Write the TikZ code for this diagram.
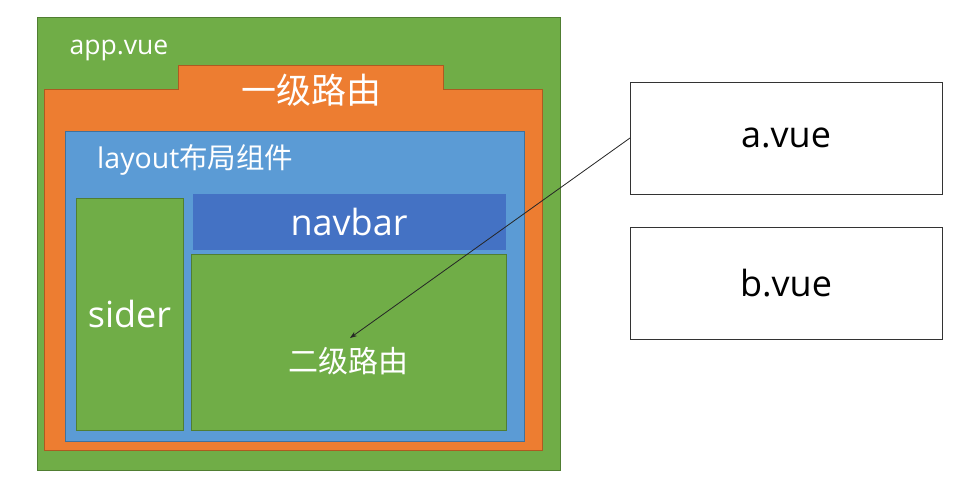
\documentclass[tikz,border=0pt]{standalone}
\usepackage{fontspec}
\setmainfont{Open Sans}
\newfontfamily\cjk{Noto Sans CJK SC}
\usepackage{xcolor}
\usetikzlibrary{positioning,arrows.meta}

\definecolor{appgreen}{HTML}{70AD47}
\definecolor{appgreenline}{HTML}{507E32}
\definecolor{routeorange}{HTML}{ED7D31}
\definecolor{routeorangeline}{HTML}{AE5A21}
\definecolor{layoutblue}{HTML}{5B9BD5}
\definecolor{layoutblueline}{HTML}{41719C}
\definecolor{navblue}{HTML}{4472C4}

\begin{document}
\begin{tikzpicture}[
    x=1pt, y=-1pt,
    >={Stealth[length=7pt, width=5pt]},
    box/.style={rectangle, inner sep=0pt, outer sep=0pt, line width=1pt, anchor=north west},
    greenbox/.style={box, fill=appgreen, draw=appgreenline},
    bluebox/.style={box, fill=layoutblue, draw=layoutblueline},
    navbox/.style={box, fill=navblue, draw=navblue},
    pagebox/.style={box, fill=white, draw=black!80, minimum width=312pt, minimum height=112pt},
    routepath/.style={fill=routeorange, draw=routeorangeline, line width=1pt},
    whitetext/.style={text=white, inner sep=0pt},
    bigfont/.style={font=\fontsize{36}{40}\selectfont},
    link/.style={->, line width=0.8pt, draw=black!85}
]
\useasboundingbox (0,0) rectangle (976,482);

% app.vue
\node[greenbox, minimum width=523pt, minimum height=453pt] (app) at (37,17) {};
\node[whitetext, font=\fontsize{26.5}{30}\selectfont] (applabel) at (119,50) {app.vue};

% first level route with tab
\draw[routepath] (44,89) -- (178,89) -- (178,65) -- (443,65) -- (443,89)
    -- (542,89) -- (542,450) -- (44,450) -- cycle;
\node[whitetext, font=\cjk\fontsize{35}{40}\selectfont] (routeone) at (311,90) {一级路由};

% layout
\node[bluebox, minimum width=459pt, minimum height=310pt] (layout) at (65,131) {};
\node[whitetext, anchor=west, font=\fontsize{28.5}{32}\selectfont] (layoutlabel) at (97,160) {layout{\cjk 布局组件}};

% sider, navbar, second level route
\node[greenbox, minimum width=107pt, minimum height=232pt] (sider) at (76,198) {};
\node[whitetext, bigfont] at (sider.center) {sider};
\node[navbox, minimum width=312pt, minimum height=55pt] (navbar) at (193,194) {};
\node[whitetext, bigfont] at (navbar.center) {navbar};
\node[greenbox, minimum width=315pt, minimum height=176pt] (routetwo) at (191,254) {};
\node[whitetext, font=\cjk\fontsize{30}{34}\selectfont] (routetwolabel) at (348,361) {二级路由};

% pages
\node[pagebox] (avue) at (630,82) {};
\node[bigfont] at (avue.center) {a.vue};
\node[pagebox] (bvue) at (630,227) {};
\node[bigfont] at (bvue.center) {b.vue};

% arrow
\coordinate (target) at (350,338);
\draw[link] (avue.west) -- (target);

\end{tikzpicture}
\end{document}
